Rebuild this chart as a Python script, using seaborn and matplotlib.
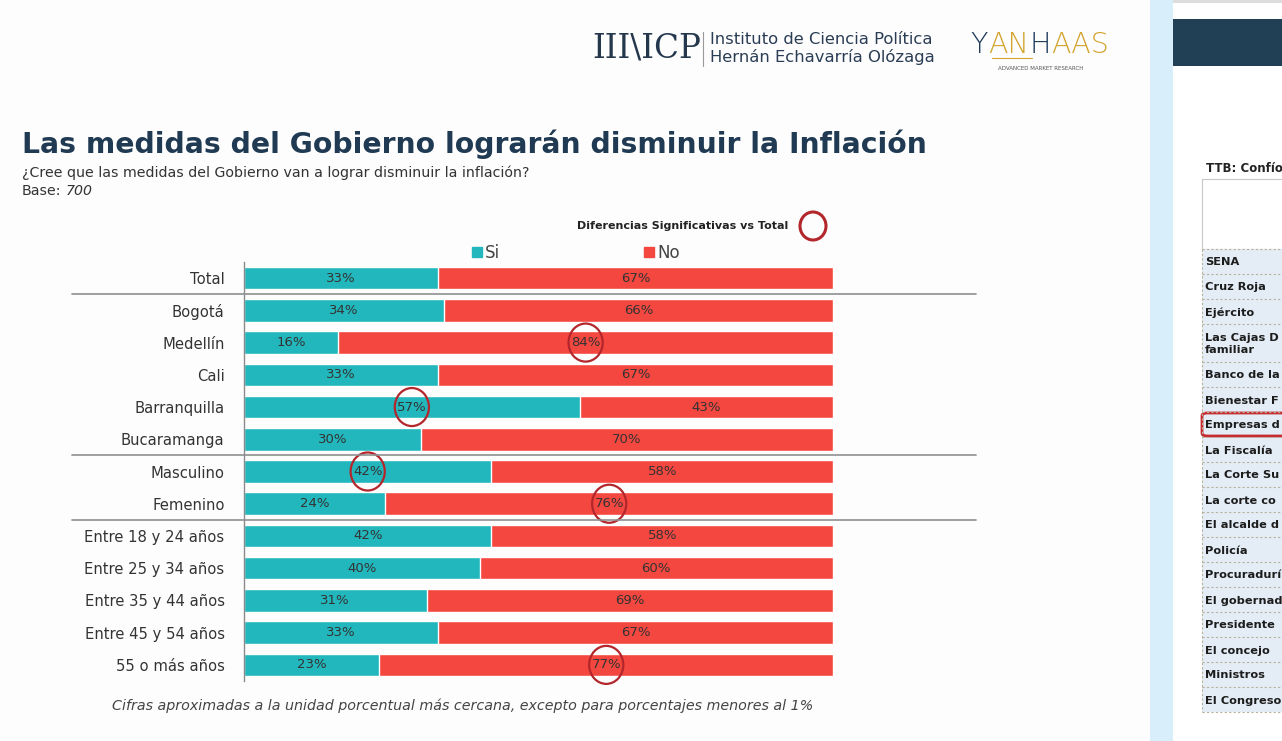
import matplotlib
matplotlib.use("Agg")
import matplotlib.pyplot as plt
import matplotlib.patches as mpatches
import matplotlib.transforms as mtrans
from matplotlib.lines import Line2D
import numpy as np
import pandas as pd
import seaborn as sns

# ---------------- data ----------------
grupos = ["Total", "Bogotá", "Medellín", "Cali", "Barranquilla", "Bucaramanga",
          "Masculino", "Femenino", "Entre 18 y 24 años", "Entre 25 y 34 años",
          "Entre 35 y 44 años", "Entre 45 y 54 años", "55 o más años"]
si = [33, 34, 16, 33, 57, 30, 42, 24, 42, 40, 31, 33, 23]
no = [67, 66, 84, 67, 43, 70, 58, 76, 58, 60, 69, 67, 77]
sig_si = ["Barranquilla", "Masculino"]
sig_no = ["Medellín", "Femenino", "55 o más años"]
separadores = ["Total", "Bucaramanga", "Femenino"]   # line drawn under these rows

titulo = "Las medidas del Gobierno lograrán disminuir la Inflación"
pregunta = "¿Cree que las medidas del Gobierno van a lograr disminuir la inflación?"
nota = "Cifras aproximadas a la unidad porcentual más cercana, excepto para porcentajes menores al 1%"

# side panel (next slide, only the visible part of each name)
entidades = ["SENA", "Cruz Roja", "Ejército", "Las Cajas D\nfamiliar",
             "Banco de la", "Bienestar F", "Empresas d",
             "La Fiscalía", "La Corte Su", "La corte co",
             "El alcalde d", "Policía", "Procuradurí", "El gobernad",
             "Presidente", "El concejo", "Ministros", "El Congreso"]

TEAL = "#22b7bc"
RED = "#f4473f"
NAVY = "#1f3a52"
CIRC = "#b3262b"

W, H = 1282, 741
fx = lambda x: x / W
fy = lambda y: 1 - y / H

sns.set_style("white")
plt.rcParams["font.family"] = ["DejaVu Sans"]

df = pd.DataFrame({"grupo": grupos, "si": si, "no": no})
df["total"] = df["si"] + df["no"]

fig = plt.figure(figsize=(W / 100, H / 100), dpi=100)
fig.patch.set_facecolor("#fdfdfd")

ax = fig.add_axes([fx(244), fy(681), fx(833) - fx(244), fy(262) - fy(681)])
ax.set_facecolor("none")
sns.barplot(data=df, x="total", y="grupo", color=RED, width=0.7, saturation=1, ax=ax)
sns.barplot(data=df, x="si", y="grupo", color=TEAL, width=0.7, saturation=1, ax=ax)
ax.set_xlim(0, 100)
ax.set_ylim(len(grupos) - 0.5, -0.5)
ax.set_xlabel(""); ax.set_ylabel("")
ax.set_xticks([])
for s in ["top", "right", "bottom"]:
    ax.spines[s].set_visible(False)
ax.spines["left"].set_color("#8a8a8a")
ax.spines["left"].set_linewidth(1.0)
ax.tick_params(axis="y", which="major", length=0, pad=14, labelsize=10.6, labelcolor="#333333")
ax.set_yticks(np.arange(-0.5, len(grupos), 1), minor=True)
ax.tick_params(axis="y", which="minor", length=4, width=1, color="#8a8a8a")

for i, (s, n) in enumerate(zip(si, no)):
    ax.text(s / 2, i, f"{s}%", ha="center", va="center", fontsize=9.5, color="#333333")
    ax.text(s + n / 2, i, f"{n}%", ha="center", va="center", fontsize=9.5, color="#333333")
    if grupos[i] in sig_si:
        ax.add_patch(mpatches.Ellipse((s / 2, i), 5.8, 1.18, fill=False, ec=CIRC, lw=1.6, clip_on=False))
    if grupos[i] in sig_no:
        ax.add_patch(mpatches.Ellipse((s + n / 2, i), 5.8, 1.18, fill=False, ec=CIRC, lw=1.6, clip_on=False))

# separators
tr = mtrans.blended_transform_factory(fig.transFigure, ax.transData)
for g in separadores:
    yy = grupos.index(g) + 0.5
    fig.add_artist(Line2D([fx(72), fx(976)], [yy, yy], transform=tr, color="#8f8f8f", lw=1.2))

# legend
handles = [mpatches.Patch(color=TEAL, label="Si"), mpatches.Patch(color=RED, label="No")]
fig.legend(handles=handles, ncol=2, loc="center left", bbox_to_anchor=(fx(457), fy(253)),
           frameon=False, handlelength=0.6, handleheight=0.6, handletextpad=0.2,
           columnspacing=8.6, prop={"size": 12}, labelcolor="#444444")

fig.text(fx(788), fy(226), "Diferencias Significativas vs Total", ha="right", va="center",
         fontsize=8, fontweight="bold", color="#222222")
fig.add_artist(mpatches.Ellipse((fx(813), fy(226)), fx(26), 28 / H, fill=False, ec=CIRC, lw=2.2,
                                transform=fig.transFigure))

# titles
fig.text(fx(22), fy(144), titulo, ha="left", va="center", fontsize=20.3, fontweight="bold", color=NAVY)
fig.text(fx(22), fy(173), pregunta, ha="left", va="center", fontsize=10.2, color="#333333")
fig.text(fx(22), fy(191), "Base:", ha="left", va="center", fontsize=10.2, color="#333333")
fig.text(fx(66), fy(191), "700", ha="left", va="center", fontsize=10.2, style="italic", color="#333333")
fig.text(fx(463), fy(706), nota, ha="center", va="center", fontsize=10.3, style="italic", color="#444444")

# logos
fig.text(fx(592), fy(49), "III\\ICP", ha="left", va="center", fontsize=23.5, family="DejaVu Serif", color="#24374d")
fig.add_artist(Line2D([fx(703), fx(703)], [fy(32), fy(66)], color="#999999", lw=0.8))
fig.text(fx(710), fy(40), "Instituto de Ciencia Política", ha="left", va="center", fontsize=11.8, color="#2a3d55")
fig.text(fx(710), fy(57), "Hernán Echavarría Olózaga", ha="left", va="center", fontsize=11.8, color="#2a3d55")

# YANHAAS: pieces placed one after another using their measured widths
renderer = fig.canvas.get_renderer()
x0 = fx(970)
for txt, col in [("Y", "#1e3a5c"), ("AN", "#d4a32c"), ("H", "#1e3a5c"), ("AAS", "#d4a32c")]:
    t = fig.text(x0, fy(45), txt, ha="left", va="center", fontsize=20.5, color=col, fontweight="light")
    x0 += t.get_window_extent(renderer).width / W + 0.0005
fig.add_artist(Line2D([fx(992), fx(1032)], [fy(58), fy(58)], color="#d4a32c", lw=0.8))
fig.text(fx(1041), fy(68), "ADVANCED MARKET RESEARCH", ha="center", va="center", fontsize=4, color="#555555")

# right strip and next slide
fig.add_artist(mpatches.Rectangle((fx(1150), 0), fx(23), 1, transform=fig.transFigure, color="#d8eefa", lw=0))
fig.add_artist(mpatches.Rectangle((fx(1173), 0), fx(109), 1, transform=fig.transFigure, color="#ffffff", lw=0))
fig.add_artist(mpatches.Rectangle((fx(1173), fy(3)), fx(109), 3 / H, transform=fig.transFigure, color="#dddddd", lw=0))
fig.add_artist(mpatches.Rectangle((fx(1173), fy(66)), fx(109), 47 / H, transform=fig.transFigure, color="#213f55", lw=0))
fig.text(fx(1206), fy(169), "TTB: Confío", ha="left", va="center", fontsize=8.5, fontweight="bold", color="#222222")
fig.add_artist(mpatches.Rectangle((fx(1202), fy(249)), fx(90), 70 / H, transform=fig.transFigure,
                                  fc="#ffffff", ec="#c8c8c8", lw=0.8))
tops = [249, 274, 299, 324, 362, 387, 412, 437, 462, 487, 512, 537, 562, 587, 612, 637, 662, 687, 712]
fig.add_artist(mpatches.Rectangle((fx(1202), fy(712)), fx(90), 463 / H, transform=fig.transFigure,
                                  fc="#e4edf6", ec="none"))
for t in tops:
    fig.add_artist(Line2D([fx(1202), fx(1282)], [fy(t), fy(t)], color="#b9b19a", lw=0.8, ls=(0, (2, 2))))
fig.add_artist(Line2D([fx(1202), fx(1202)], [fy(249), fy(712)], color="#b9b19a", lw=0.8, ls=(0, (2, 2))))
for name, a, b in zip(entidades, tops[:-1], tops[1:]):
    fig.text(fx(1205), fy((a + b) / 2 + 1), name, ha="left", va="center", fontsize=8.2, fontweight="bold",
             color="#1c1c1c", linespacing=1.25)
fig.add_artist(mpatches.FancyBboxPatch((fx(1202), fy(436)), fx(95), 23 / H, transform=fig.transFigure,
                                       boxstyle="round,pad=0,rounding_size=0.004", fill=False, ec="#c62a2f", lw=2))

fig.savefig("out.png", dpi=100)
